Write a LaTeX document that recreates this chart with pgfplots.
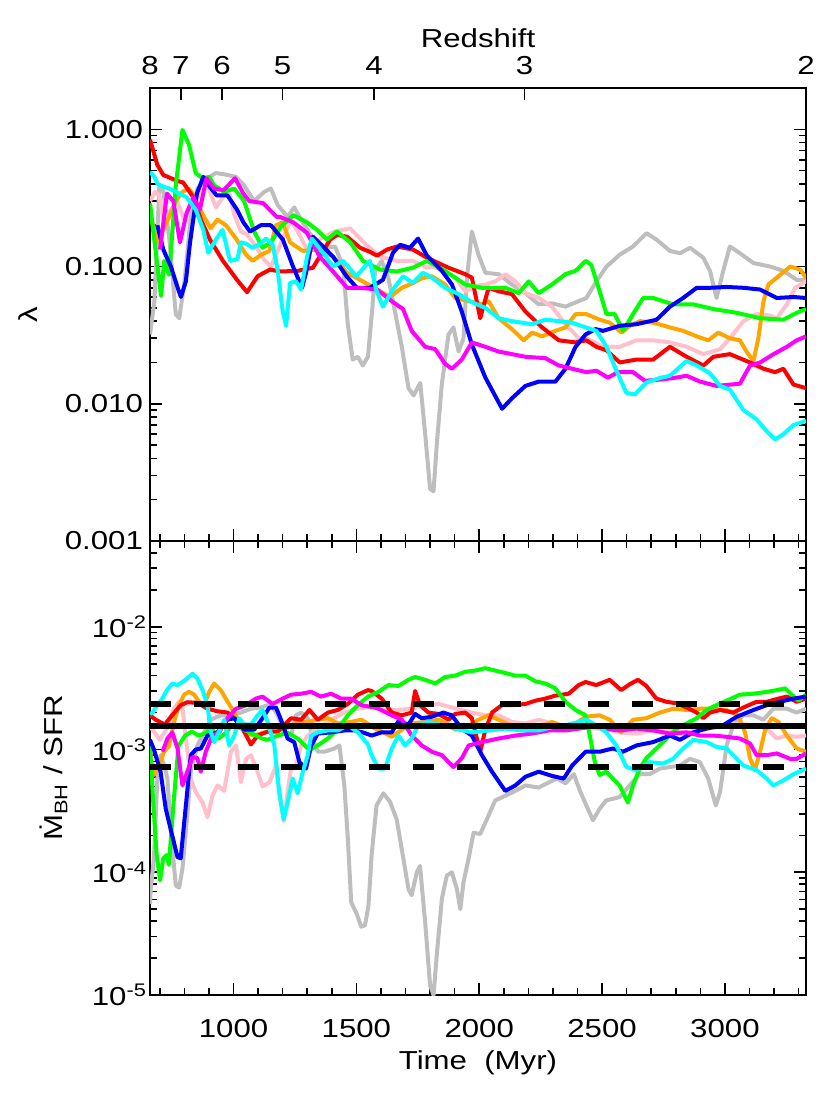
\documentclass[border=0pt]{standalone}
\usepackage{fontspec}
\setmainfont{Liberation Sans}[FakeStretch=1.2]
\usepackage{pgfplots}
\pgfplotsset{compat=1.18}

\definecolor{cgray}{RGB}{190,190,190}
\definecolor{corange}{RGB}{255,165,0}
\definecolor{cpink}{RGB}{255,192,203}
\definecolor{cgreen}{RGB}{0,255,0}
\definecolor{ccyan}{RGB}{0,255,255}
\definecolor{cmag}{RGB}{255,0,255}

\pgfplotsset{
  panel/.style={
    scale only axis, width=328pt,
    xmin=660, xmax=3330,
    tick align=inside,
    major tick length=6pt, minor tick length=3.5pt,
    axis line style={line width=0.8pt},
    every tick/.style={line width=0.8pt, black},
    font=\fontsize{13}{15}\selectfont,
    every axis plot/.append style={line width=2pt, line join=round},
  },
  timeticks/.style={
    xtick={1000,1500,2000,2500,3000},
    minor xtick={700,800,900,1100,1200,1300,1400,1600,1700,1800,1900,2100,2200,2300,2400,2600,2700,2800,2900,3100,3200,3300},
  },
}

\begin{document}
\begin{tikzpicture}
\path[use as bounding box] (-75pt,-283pt) rectangle (340pt,270.5pt);

% ---------------- top panel: lambda ----------------
\begin{axis}[panel, timeticks,
  at={(0,0)}, anchor=south west, height=226.5pt,
  ymode=log, ymin=0.001, ymax=2,
  xtick pos=left, xticklabels={},
  ytick pos=both, yticklabel pos=left,
  ytick={0.001,0.01,0.1,1},
  yticklabels={0.001,0.010,0.100,1.000},
  minor ytick={0.002,0.003,0.004,0.005,0.006,0.007,0.008,0.009,
    0.02,0.03,0.04,0.05,0.06,0.07,0.08,0.09,
    0.2,0.3,0.4,0.5,0.6,0.7,0.8,0.9,2},
  ylabel={λ},
  ylabel style={at={([xshift=-56pt]axis description cs:0,0.5)}, anchor=base},
]
\addplot[cgray] coordinates {(660,0.032) (678,0.056) (698,0.39) (715,0.35) (740,0.15) (765,0.045) (779,0.042) (799,0.074) (826,0.23) (853,0.37) (894,0.44) (928,0.48) (962,0.47) (1010,0.45) (1043,0.39) (1084,0.30) (1125,0.35) (1152,0.37) (1180,0.28) (1220,0.23) (1247,0.27) (1288,0.20) (1343,0.144) (1377,0.137) (1413,0.14) (1446,0.10) (1465,0.038) (1485,0.021) (1506,0.022) (1526,0.019) (1547,0.022) (1565,0.05) (1576,0.093) (1603,0.11) (1630,0.083) (1657,0.047) (1685,0.026) (1712,0.013) (1733,0.0115) (1760,0.0142) (1780,0.006) (1800,0.0024) (1814,0.0023) (1827,0.005) (1848,0.014) (1875,0.032) (1895,0.036) (1916,0.024) (1936,0.03) (1950,0.083) (1970,0.18) (1997,0.122) (2025,0.09) (2079,0.088) (2133,0.074) (2188,0.064) (2242,0.053) (2296,0.054) (2351,0.051) (2405,0.056) (2436,0.059) (2477,0.078) (2518,0.10) (2572,0.122) (2626,0.14) (2681,0.175) (2722,0.157) (2776,0.13) (2817,0.125) (2858,0.137) (2912,0.116) (2939,0.093) (2966,0.059) (2993,0.093) (3020,0.14) (3061,0.125) (3116,0.106) (3184,0.10) (3238,0.093) (3292,0.08) (3330,0.08)};
\addplot[cpink] coordinates {(660,0.3) (680,0.35) (698,0.33) (718,0.2) (740,0.25) (770,0.3) (799,0.22) (826,0.28) (860,0.33) (894,0.39) (928,0.27) (962,0.33) (982,0.35) (1003,0.24) (1030,0.18) (1057,0.17) (1091,0.14) (1125,0.112) (1152,0.10) (1180,0.13) (1207,0.17) (1234,0.22) (1261,0.18) (1302,0.13) (1356,0.16) (1411,0.18) (1474,0.19) (1530,0.15) (1596,0.118) (1665,0.11) (1730,0.11) (1787,0.098) (1807,0.10) (1861,0.093) (1902,0.083) (1943,0.066) (1984,0.072) (2025,0.074) (2065,0.078) (2106,0.088) (2147,0.078) (2188,0.064) (2242,0.059) (2296,0.051) (2351,0.038) (2405,0.030) (2436,0.030) (2504,0.026) (2572,0.026) (2640,0.029) (2708,0.029) (2776,0.028) (2844,0.026) (2912,0.023) (2980,0.025) (3020,0.030) (3075,0.040) (3129,0.045) (3184,0.044) (3211,0.042) (3252,0.053) (3286,0.07) (3330,0.078)};
\addplot[corange] coordinates {(660,0.25) (678,0.18) (691,0.15) (711,0.18) (738,0.23) (765,0.30) (792,0.35) (819,0.37) (846,0.31) (874,0.24) (907,0.19) (935,0.22) (969,0.20) (1010,0.16) (1051,0.122) (1078,0.11) (1112,0.122) (1146,0.13) (1173,0.20) (1200,0.21) (1230,0.15) (1282,0.13) (1351,0.133) (1405,0.118) (1462,0.09) (1515,0.08) (1584,0.068) (1637,0.06) (1685,0.07) (1725,0.075) (1766,0.082) (1807,0.085) (1861,0.074) (1902,0.059) (1957,0.056) (2011,0.053) (2038,0.056) (2079,0.042) (2133,0.035) (2181,0.029) (2215,0.033) (2256,0.031) (2310,0.034) (2351,0.036) (2392,0.045) (2436,0.045) (2490,0.041) (2531,0.039) (2579,0.033) (2613,0.037) (2654,0.040) (2708,0.039) (2776,0.036) (2830,0.034) (2885,0.031) (2932,0.029) (2973,0.033) (3020,0.030) (3061,0.029) (3088,0.024) (3116,0.0205) (3136,0.03) (3157,0.056) (3177,0.074) (3218,0.085) (3266,0.10) (3306,0.095) (3330,0.083)};
\addplot[red] coordinates {(660,0.84) (690,0.55) (714,0.465) (772,0.42) (795,0.41) (836,0.32) (867,0.22) (904,0.157) (957,0.11) (1014,0.08) (1055,0.065) (1098,0.085) (1148,0.095) (1189,0.092) (1261,0.093) (1323,0.098) (1393,0.157) (1421,0.17) (1462,0.165) (1515,0.137) (1555,0.128) (1584,0.12) (1625,0.133) (1665,0.14) (1730,0.133) (1787,0.116) (1875,0.098) (1943,0.088) (1970,0.083) (2004,0.042) (2038,0.07) (2079,0.066) (2133,0.063) (2188,0.047) (2256,0.036) (2324,0.029) (2392,0.028) (2436,0.029) (2477,0.026) (2518,0.0245) (2572,0.020) (2640,0.021) (2708,0.021) (2776,0.026) (2844,0.022) (2912,0.019) (2953,0.022) (3020,0.023) (3102,0.020) (3157,0.018) (3204,0.017) (3238,0.018) (3279,0.0138) (3330,0.013)};
\addplot[cgreen] coordinates {(660,0.29) (675,0.17) (705,0.061) (718,0.11) (738,0.087) (765,0.39) (792,0.99) (819,0.77) (846,0.48) (874,0.44) (901,0.45) (921,0.39) (962,0.35) (1003,0.37) (1043,0.30) (1084,0.18) (1118,0.137) (1152,0.15) (1193,0.195) (1243,0.237) (1299,0.21) (1340,0.185) (1380,0.157) (1421,0.18) (1475,0.15) (1527,0.11) (1596,0.095) (1665,0.092) (1730,0.098) (1787,0.11) (1861,0.093) (1943,0.074) (2011,0.07) (2106,0.07) (2161,0.064) (2201,0.078) (2242,0.064) (2296,0.074) (2351,0.088) (2392,0.093) (2433,0.11) (2456,0.103) (2490,0.066) (2518,0.045) (2551,0.045) (2586,0.034) (2626,0.045) (2667,0.059) (2708,0.059) (2789,0.053) (2871,0.053) (2953,0.049) (3048,0.046) (3143,0.042) (3238,0.041) (3292,0.046) (3330,0.049)};
\addplot[blue] coordinates {(690,0.2) (714,0.133) (745,0.1) (775,0.068) (786,0.06) (806,0.078) (823,0.15) (851,0.34) (877,0.45) (904,0.38) (931,0.33) (975,0.33) (1014,0.26) (1040,0.21) (1067,0.18) (1111,0.2) (1152,0.2) (1201,0.157) (1242,0.10) (1279,0.07) (1295,0.09) (1323,0.165) (1364,0.14) (1405,0.118) (1460,0.085) (1502,0.07) (1555,0.07) (1608,0.08) (1649,0.126) (1678,0.144) (1718,0.137) (1751,0.16) (1787,0.12) (1848,0.093) (1889,0.074) (1929,0.047) (1970,0.027) (2025,0.0155) (2093,0.0092) (2134,0.011) (2188,0.0135) (2242,0.0145) (2310,0.0145) (2351,0.018) (2392,0.026) (2433,0.032) (2473,0.035) (2504,0.034) (2572,0.037) (2640,0.038) (2722,0.041) (2776,0.051) (2830,0.059) (2885,0.07) (2939,0.07) (3007,0.071) (3075,0.07) (3143,0.068) (3211,0.059) (3279,0.06) (3330,0.059)};
\addplot[cmag] coordinates {(701,0.133) (729,0.34) (755,0.3) (782,0.15) (809,0.245) (836,0.32) (863,0.26) (890,0.44) (921,0.37) (960,0.36) (1006,0.44) (1040,0.34) (1064,0.30) (1120,0.29) (1176,0.23) (1189,0.23) (1243,0.21) (1299,0.176) (1351,0.118) (1405,0.092) (1462,0.07) (1515,0.07) (1584,0.068) (1649,0.055) (1690,0.049) (1725,0.034) (1780,0.026) (1821,0.025) (1861,0.0195) (1889,0.018) (1929,0.021) (1970,0.028) (2025,0.026) (2079,0.024) (2133,0.023) (2188,0.022) (2269,0.0215) (2324,0.019) (2378,0.018) (2436,0.017) (2477,0.0174) (2524,0.0155) (2565,0.017) (2626,0.017) (2674,0.0147) (2735,0.015) (2790,0.0154) (2844,0.016) (2899,0.0145) (2966,0.0135) (3061,0.014) (3102,0.019) (3143,0.020) (3198,0.023) (3252,0.026) (3292,0.029) (3330,0.031)};
\addplot[ccyan] coordinates {(660,0.49) (678,0.45) (691,0.40) (718,0.38) (738,0.37) (765,0.35) (809,0.32) (846,0.26) (877,0.185) (897,0.126) (928,0.157) (955,0.185) (986,0.11) (1016,0.113) (1030,0.15) (1050,0.147) (1078,0.137) (1105,0.145) (1132,0.16) (1159,0.145) (1180,0.093) (1200,0.047) (1214,0.037) (1230,0.076) (1254,0.078) (1275,0.068) (1299,0.118) (1319,0.16) (1364,0.126) (1405,0.10) (1446,0.11) (1500,0.085) (1555,0.11) (1580,0.068) (1608,0.051) (1649,0.068) (1690,0.085) (1730,0.076) (1771,0.09) (1807,0.083) (1861,0.07) (1916,0.063) (1970,0.055) (2025,0.05) (2079,0.042) (2133,0.04) (2215,0.038) (2269,0.041) (2324,0.04) (2378,0.039) (2433,0.036) (2477,0.034) (2518,0.026) (2558,0.0175) (2599,0.012) (2633,0.0117) (2681,0.0143) (2735,0.0154) (2776,0.016) (2844,0.0205) (2885,0.019) (2939,0.0167) (2980,0.0135) (3020,0.0127) (3075,0.009) (3129,0.0077) (3170,0.0063) (3204,0.0055) (3238,0.006) (3279,0.007) (3330,0.0075)};
\end{axis}

% ---------------- redshift axis on top ----------------
\begin{axis}[panel,
  at={(0,0)}, anchor=south west, height=226.5pt,
  ymin=0, ymax=1,
  axis y line=none, axis x line*=top,
  xtick={660,785,953,1199,1572,2184,3330},
  xticklabels={8,7,6,5,4,3,2},
  xticklabel style={anchor=base, yshift=6.5pt},
  xlabel={Redshift},
  xlabel style={at={(axis description cs:0.5,1)}, anchor=base, yshift=20pt},
]
\end{axis}

% ---------------- bottom panel: Mdot / SFR ----------------
\begin{axis}[panel, timeticks,
  at={(0,0)}, anchor=north west, height=227pt,
  ymode=log, ymin=1e-5, ymax=0.05,
  xtick pos=both, xticklabel pos=left,
  xticklabels={1000,1500,2000,2500,3000},
  xticklabel style={anchor=base, yshift=-21pt},
  ytick pos=both, yticklabel pos=left,
  ytick={1e-5,1e-4,1e-3,1e-2},
  yticklabels={10\textsuperscript{-5},10\textsuperscript{-4},10\textsuperscript{-3},10\textsuperscript{-2}},
  yticklabel style={xshift=2pt},
  minor ytick={2e-5,3e-5,4e-5,5e-5,6e-5,7e-5,8e-5,9e-5,
    2e-4,3e-4,4e-4,5e-4,6e-4,7e-4,8e-4,9e-4,
    2e-3,3e-3,4e-3,5e-3,6e-3,7e-3,8e-3,9e-3,
    2e-2,3e-2,4e-2},
  ylabel={\.{M}\textsubscript{BH} / SFR},
  ylabel style={at={([xshift=-43.5pt]axis description cs:0,0.5)}, anchor=base},
  xlabel={Time~~(Myr)},
  xlabel style={at={(axis description cs:0.5,0)}, anchor=base, yshift=-37pt},
]
\addplot[cgray] coordinates {(660,5.5e-5) (663,7.3e-5) (676,1.3e-4) (690,5.8e-4) (703,9e-4) (718,7.4e-4) (731,5.8e-4) (744,2.25e-4) (765,7.8e-5) (779,7.5e-5) (792,1.07e-4) (812,2.9e-4) (826,6.6e-4) (853,1.08e-3) (880,1.38e-3) (907,1.75e-3) (948,1.9e-3) (989,1.9e-3) (1030,2.0e-3) (1071,2.15e-3) (1112,2.2e-3) (1152,2.35e-3) (1180,1.9e-3) (1207,1.38e-3) (1234,1.3e-3) (1254,1.9e-3) (1275,2.0e-3) (1302,1.8e-3) (1322,1.23e-3) (1343,9.6e-4) (1370,9.6e-4) (1411,1.02e-3) (1431,1.08e-3) (1451,5.1e-4) (1465,1.9e-4) (1479,5.7e-5) (1499,4.7e-5) (1520,3.6e-5) (1535,3.7e-5) (1549,5.3e-5) (1562,1.38e-4) (1582,3.5e-4) (1610,4.4e-4) (1637,3.75e-4) (1664,2.7e-4) (1691,1.3e-4) (1712,7.3e-5) (1725,6.5e-5) (1746,1.0e-4) (1759,1.13e-4) (1780,3.9e-5) (1800,1.2e-5) (1814,1.0e-5) (1827,2.1e-5) (1848,6.1e-5) (1868,9.4e-5) (1889,1.0e-4) (1909,7.3e-5) (1923,5.0e-5) (1936,8.3e-5) (1957,1.3e-4) (1977,2.1e-4) (2004,2.05e-4) (2031,2.7e-4) (2065,3.85e-4) (2106,4.2e-4) (2147,4.6e-4) (2188,5.1e-4) (2242,4.9e-4) (2283,5.4e-4) (2317,5.8e-4) (2351,5.3e-4) (2385,6.3e-4) (2412,4.5e-4) (2436,3.5e-4) (2463,2.65e-4) (2490,3.3e-4) (2517,3.85e-4) (2571,4.1e-4) (2612,5.1e-4) (2653,6.3e-4) (2694,6.3e-4) (2735,7e-4) (2776,7.2e-4) (2817,7.4e-4) (2857,8.4e-4) (2898,7.9e-4) (2932,5.8e-4) (2963,3.5e-4) (2980,4.5e-4) (3007,1.08e-3) (3034,1.58e-3) (3075,1.9e-3) (3116,1.9e-3) (3156,1.75e-3) (3197,2.15e-3) (3252,2.15e-3) (3292,2.0e-3) (3330,2.15e-3)};
\addplot[cpink] coordinates {(660,1.55e-3) (700,1.2e-3) (730,1.5e-3) (758,2.15e-3) (778,2.45e-3) (792,2.2e-3) (806,1.23e-3) (826,5.8e-4) (846,4.5e-4) (874,3.7e-4) (894,2.8e-4) (914,4.2e-4) (935,5.1e-4) (962,4.6e-4) (989,9.6e-4) (1010,1.08e-3) (1030,5.4e-4) (1051,8.4e-4) (1071,9e-4) (1098,6.6e-4) (1118,5e-4) (1146,5.4e-4) (1173,7.4e-4) (1186,4.5e-4) (1204,2.6e-4) (1220,4.5e-4) (1234,7e-4) (1254,7.4e-4) (1275,1.08e-3) (1302,1.3e-3) (1343,1.48e-3) (1397,1.75e-3) (1451,2.0e-3) (1506,2.15e-3) (1535,2.2e-3) (1576,2.3e-3) (1616,2.1e-3) (1671,2.1e-3) (1725,2.15e-3) (1780,2.3e-3) (1834,2.35e-3) (1889,2.2e-3) (1929,2.1e-3) (1970,2.0e-3) (2024,1.9e-3) (2079,1.9e-3) (2133,1.68e-3) (2188,1.63e-3) (2242,1.75e-3) (2296,1.63e-3) (2351,1.48e-3) (2405,1.52e-3) (2473,1.48e-3) (2504,1.48e-3) (2571,1.38e-3) (2640,1.35e-3) (2708,1.43e-3) (2776,1.43e-3) (2844,1.38e-3) (2912,1.48e-3) (2980,1.52e-3) (3048,1.63e-3) (3116,1.58e-3) (3170,1.48e-3) (3211,1.23e-3) (3252,1.3e-3) (3292,1.27e-3) (3330,1.3e-3)};
\addplot[corange] coordinates {(660,1.2e-3) (663,8.4e-4) (676,6.2e-4) (697,7.4e-4) (717,9.6e-4) (738,1.07e-3) (758,1.68e-3) (778,2.3e-3) (799,2.8e-3) (819,2.95e-3) (840,2.8e-3) (860,2.45e-3) (880,2.3e-3) (901,2.95e-3) (921,3.45e-3) (948,3.05e-3) (976,2.45e-3) (1003,2.0e-3) (1030,1.6e-3) (1057,1.35e-3) (1084,1.3e-3) (1125,1.38e-3) (1180,1.43e-3) (1220,1.5e-3) (1261,1.68e-3) (1302,1.68e-3) (1343,1.75e-3) (1384,1.8e-3) (1424,1.63e-3) (1479,1.68e-3) (1520,1.75e-3) (1535,1.68e-3) (1576,1.48e-3) (1610,1.38e-3) (1644,1.27e-3) (1685,1.45e-3) (1725,1.63e-3) (1780,1.68e-3) (1834,1.75e-3) (1875,1.6e-3) (1902,1.45e-3) (1943,1.48e-3) (1997,1.75e-3) (2038,1.9e-3) (2079,1.75e-3) (2120,1.6e-3) (2174,1.52e-3) (2242,1.52e-3) (2296,1.68e-3) (2351,1.52e-3) (2392,1.63e-3) (2433,1.85e-3) (2490,1.9e-3) (2531,1.75e-3) (2578,1.38e-3) (2626,1.75e-3) (2680,1.8e-3) (2735,2.0e-3) (2789,2.15e-3) (2844,2.1e-3) (2898,2.15e-3) (2952,2.15e-3) (3007,2.1e-3) (3054,1.9e-3) (3082,1.38e-3) (3102,8.5e-4) (3122,6.8e-4) (3143,9.6e-4) (3163,1.43e-3) (3190,1.8e-3) (3218,1.68e-3) (3252,1.3e-3) (3292,1.02e-3) (3330,9.6e-4)};
\addplot[red] coordinates {(660,1.9e-3) (683,1.75e-3) (720,1.6e-3) (750,1.9e-3) (785,2.3e-3) (812,2.43e-3) (853,2.4e-3) (894,2.15e-3) (935,2.05e-3) (976,2.0e-3) (1010,1.75e-3) (1043,1.4e-3) (1071,1.1e-3) (1098,1.3e-3) (1139,1.4e-3) (1180,1.4e-3) (1234,1.8e-3) (1275,1.75e-3) (1309,2.1e-3) (1343,1.75e-3) (1384,2.0e-3) (1424,2.1e-3) (1465,2.35e-3) (1506,2.8e-3) (1547,3.05e-3) (1562,3.0e-3) (1603,2.6e-3) (1644,2.0e-3) (1685,1.9e-3) (1725,2.0e-3) (1739,3.0e-3) (1759,2.3e-3) (1793,2.0e-3) (1834,1.95e-3) (1875,1.75e-3) (1902,1.95e-3) (1943,2.0e-3) (1970,1.8e-3) (2004,9.6e-4) (2024,1.43e-3) (2052,2.0e-3) (2092,2.3e-3) (2133,2.3e-3) (2188,2.35e-3) (2228,2.5e-3) (2269,2.6e-3) (2310,2.75e-3) (2364,2.85e-3) (2405,3.35e-3) (2433,3.55e-3) (2476,3.35e-3) (2531,3.7e-3) (2578,3.05e-3) (2612,3.4e-3) (2646,3.7e-3) (2680,3.3e-3) (2721,2.6e-3) (2762,2.45e-3) (2803,2.38e-3) (2844,2.2e-3) (2885,2.0e-3) (2912,1.8e-3) (2939,2.0e-3) (2980,2.1e-3) (3034,2.0e-3) (3075,2.2e-3) (3129,2.45e-3) (3170,2.45e-3) (3218,2.6e-3) (3252,2.7e-3) (3292,2.45e-3) (3330,2.6e-3)};
\addplot[cgreen] coordinates {(660,1.07e-3) (674,3.5e-4) (687,1.4e-4) (701,8.6e-5) (714,1.3e-4) (728,1.38e-4) (737,1.15e-4) (755,3.5e-4) (776,1.07e-3) (803,1.3e-3) (830,1.4e-3) (857,1.3e-3) (884,1.35e-3) (912,1.48e-3) (939,1.23e-3) (966,1.35e-3) (993,1.58e-3) (1034,1.48e-3) (1075,1.35e-3) (1116,1.23e-3) (1139,1.2e-3) (1180,1.3e-3) (1220,1.37e-3) (1261,1.23e-3) (1309,9.9e-4) (1343,1.08e-3) (1384,1.23e-3) (1424,1.47e-3) (1465,1.9e-3) (1506,2.3e-3) (1547,2.7e-3) (1590,2.95e-3) (1630,3.35e-3) (1671,3.3e-3) (1712,3.7e-3) (1739,3.9e-3) (1780,3.7e-3) (1821,3.45e-3) (1861,3.9e-3) (1902,4.0e-3) (1943,4.3e-3) (1984,4.4e-3) (2024,4.6e-3) (2065,4.4e-3) (2106,4.2e-3) (2147,4.0e-3) (2188,4.0e-3) (2228,3.6e-3) (2269,3.45e-3) (2310,3.15e-3) (2351,2.45e-3) (2392,2.1e-3) (2433,1.9e-3) (2450,1.3e-3) (2470,8e-4) (2490,6.2e-4) (2517,6.6e-4) (2544,5.8e-4) (2571,5.1e-4) (2605,3.7e-4) (2626,5.1e-4) (2653,7e-4) (2680,8.5e-4) (2721,1.02e-3) (2762,1.23e-3) (2803,1.48e-3) (2844,1.63e-3) (2885,1.8e-3) (2925,2.1e-3) (2966,2.3e-3) (3007,2.5e-3) (3061,2.8e-3) (3116,2.85e-3) (3170,2.95e-3) (3211,3.05e-3) (3245,3.15e-3) (3272,2.8e-3) (3299,2.5e-3) (3330,2.8e-3)};
\addplot[blue] coordinates {(660,1.2e-3) (676,1.0e-3) (703,6.6e-4) (724,3.3e-4) (744,2.25e-4) (772,1.33e-4) (785,1.3e-4) (806,3.5e-4) (826,9e-4) (846,1.0e-3) (867,1.02e-3) (894,1.3e-3) (935,1.38e-3) (975,1.75e-3) (1003,1.8e-3) (1043,1.45e-3) (1084,1.45e-3) (1118,1.8e-3) (1146,2.2e-3) (1173,2.2e-3) (1193,1.75e-3) (1220,1.23e-3) (1247,1.15e-3) (1268,7.9e-4) (1295,7e-4) (1316,1.08e-3) (1343,1.35e-3) (1397,1.38e-3) (1451,1.43e-3) (1492,1.43e-3) (1526,1.38e-3) (1562,1.3e-3) (1603,1.38e-3) (1644,1.38e-3) (1671,1.7e-3) (1712,1.6e-3) (1739,1.95e-3) (1766,1.8e-3) (1807,1.85e-3) (1854,2.0e-3) (1888,1.9e-3) (1929,1.48e-3) (1970,1.3e-3) (2011,9e-4) (2052,6.6e-4) (2106,4.6e-4) (2147,5.1e-4) (2188,6.0e-4) (2242,6.6e-4) (2296,6.1e-4) (2344,5.8e-4) (2378,7.4e-4) (2433,9.6e-4) (2490,9.6e-4) (2544,1.02e-3) (2585,9.6e-4) (2640,1.08e-3) (2708,1.15e-3) (2776,1.3e-3) (2817,1.2e-3) (2871,1.38e-3) (2925,1.48e-3) (2993,1.58e-3) (3048,1.85e-3) (3116,2.1e-3) (3170,2.3e-3) (3224,2.45e-3) (3279,2.6e-3) (3330,2.7e-3)};
\addplot[cmag] coordinates {(711,9.6e-4) (731,1.23e-3) (751,1.38e-3) (772,1.02e-3) (792,5.1e-4) (812,6.6e-4) (833,8.7e-4) (853,8.5e-4) (867,6.6e-4) (887,9.6e-4) (914,1.3e-3) (941,1.38e-3) (975,1.8e-3) (1010,2.15e-3) (1051,2.3e-3) (1091,2.6e-3) (1118,2.7e-3) (1159,2.35e-3) (1200,2.6e-3) (1234,2.8e-3) (1275,2.85e-3) (1316,2.95e-3) (1356,2.7e-3) (1397,2.85e-3) (1438,2.6e-3) (1479,2.6e-3) (1520,2.3e-3) (1574,2.2e-3) (1590,2.15e-3) (1644,1.9e-3) (1685,1.75e-3) (1725,1.3e-3) (1766,1.08e-3) (1807,9.6e-4) (1848,9e-4) (1895,7.2e-4) (1929,8.5e-4) (1957,1.08e-3) (2011,1.15e-3) (2079,1.23e-3) (2147,1.3e-3) (2215,1.35e-3) (2283,1.43e-3) (2351,1.43e-3) (2405,1.48e-3) (2473,1.55e-3) (2504,1.48e-3) (2571,1.43e-3) (2640,1.48e-3) (2708,1.43e-3) (2776,1.35e-3) (2844,1.38e-3) (2898,1.3e-3) (2952,1.3e-3) (3007,1.27e-3) (3061,1.23e-3) (3102,1.12e-3) (3129,9e-4) (3170,9e-4) (3211,9.3e-4) (3265,8.4e-4) (3292,8.4e-4) (3330,9.3e-4)};
\addplot[ccyan] coordinates {(660,1.95e-3) (670,2.0e-3) (690,2.3e-3) (710,2.6e-3) (731,3.1e-3) (751,3.45e-3) (772,3.35e-3) (792,3.55e-3) (812,3.8e-3) (833,4.15e-3) (853,3.8e-3) (874,3.05e-3) (894,2.3e-3) (907,1.4e-3) (921,1.15e-3) (941,1.4e-3) (962,1.75e-3) (982,1.08e-3) (1003,1.3e-3) (1023,1.8e-3) (1043,1.6e-3) (1071,1.6e-3) (1098,1.9e-3) (1118,2.1e-3) (1139,1.68e-3) (1166,1.08e-3) (1186,4.5e-4) (1204,2.7e-4) (1220,3.7e-4) (1241,5.8e-4) (1261,4.4e-4) (1282,6.6e-4) (1302,9e-4) (1316,1.3e-3) (1343,1.38e-3) (1384,1.43e-3) (1424,1.43e-3) (1465,1.58e-3) (1506,1.38e-3) (1547,1.1e-3) (1562,9e-4) (1590,7e-4) (1616,7e-4) (1644,1.02e-3) (1671,1.3e-3) (1698,1.08e-3) (1725,1.23e-3) (1752,1.58e-3) (1793,1.68e-3) (1848,1.58e-3) (1902,1.48e-3) (1970,1.38e-3) (2038,1.43e-3) (2106,1.48e-3) (2174,1.43e-3) (2242,1.43e-3) (2296,1.52e-3) (2351,1.58e-3) (2405,1.68e-3) (2436,1.75e-3) (2476,1.58e-3) (2517,1.38e-3) (2558,1.08e-3) (2599,7.2e-4) (2640,6.8e-4) (2694,7.9e-4) (2749,7.7e-4) (2789,8.4e-4) (2830,1.02e-3) (2871,1.2e-3) (2925,1.15e-3) (2966,1.05e-3) (3007,1.02e-3) (3034,9e-4) (3075,7.4e-4) (3129,6.8e-4) (3170,5.8e-4) (3197,5.1e-4) (3238,5.6e-4) (3279,6.3e-4) (3330,7e-4)};
% mean ratio and its scatter
\addplot[black, line width=3pt] coordinates {(660,1.55e-3) (3330,1.55e-3)};
\addplot[black, line width=3pt, dash pattern=on 10.5pt off 11.4pt] coordinates {(660,2.35e-3) (3330,2.35e-3)};
\addplot[black, line width=3pt, dash pattern=on 10.5pt off 11.4pt] coordinates {(660,7.2e-4) (3330,7.2e-4)};
\end{axis}
\end{tikzpicture}
\end{document}
